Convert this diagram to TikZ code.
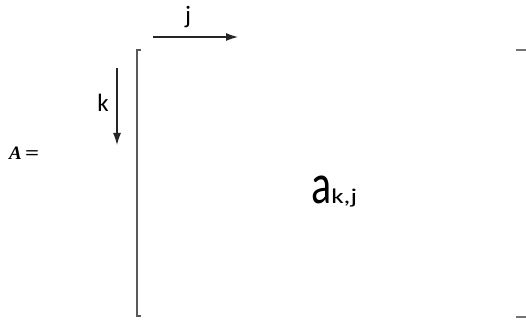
\documentclass[tikz,border=0pt]{standalone}
\usepackage{fontspec}
\setmainfont{Carlito}
\newfontfamily\timesfont{Liberation Serif}
\usetikzlibrary{arrows.meta}

\begin{document}
\begin{tikzpicture}[x=1pt, y=-1pt,
			>={Latex[length=12pt,width=8pt]},   %Pfeilspitzen
			richtung/.style={->, line width=1.1pt, color=black!85},
			klammer/.style={line width=2.4pt, color=black!65},
			marke/.style={inner sep=0pt, font=\fontsize{25}{25}\selectfont}]
			%Rahmen festlegen
			\useasboundingbox (0,0) rectangle (526,320);
			% Klammern zeichnen
			\draw[klammer] (141,50) -- (137,50) -- (137,316) -- (141,316);
			\draw[klammer, color=black!55] (516,50) -- (526,50);
			\draw[klammer, color=black!55] (516,317) -- (526,317);
			% Richtungen
			\coordinate (jstart) at (153,37);
			\coordinate (jend) at (238,37);
			\coordinate (kstart) at (117,68);
			\coordinate (kend) at (117,145);
			\draw[richtung] (jstart) -- (jend);
			\draw[richtung] (kstart) -- (kend);
			\node[marke, anchor=base] (jlabel) at (188,24) {j};
			\node[marke, anchor=base] (klabel) at (103,112) {k};
			% Matrix beschriften
			\node[inner sep=0pt, anchor=base west, font=\timesfont\fontsize{19}{19}\selectfont] (aname) at (9,160) {\textbf{\textit{A}}\,\scalebox{1.3}[1]{\textbf{=}}};
			\node[inner sep=0pt, anchor=base west] (element) at (311,203)
				{\scalebox{1}[1.35]{\fontsize{42}{42}\selectfont a}\scalebox{1.3}[1]{\fontsize{21}{21}\selectfont k,j}};
		\end{tikzpicture}
\end{document}
